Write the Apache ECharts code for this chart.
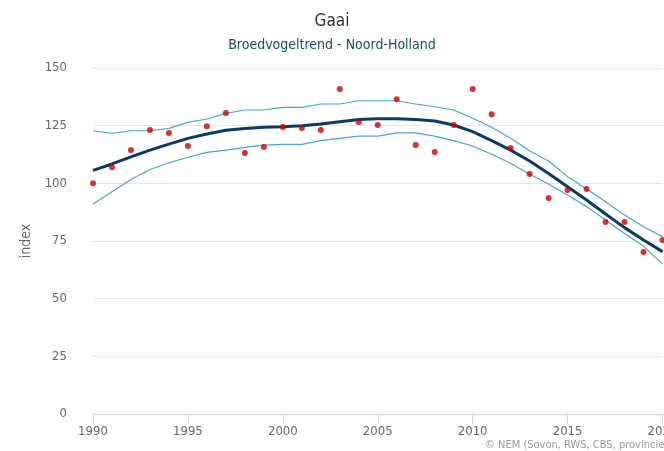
<!DOCTYPE html>
<html>
<head>
<meta charset="utf-8">
<script src="https://cdn.jsdelivr.net/npm/echarts@6/dist/echarts.min.js"></script>
<style>
  html, body { margin: 0; padding: 0; background: #fff; }
  #chart { width: 664px; height: 451px; }
</style>
</head>
<body>
<div id="chart"></div>
<script>
// jaren 1990-2020
const years = [1990, 1991, 1992, 1993, 1994, 1995, 1996, 1997, 1998, 1999,
  2000, 2001, 2002, 2003, 2004, 2005, 2006, 2007, 2008, 2009,
  2010, 2011, 2012, 2013, 2014, 2015, 2016, 2017, 2018, 2019, 2020];

// indexwaarden per jaar (punten)
const indexValues = [100, 107, 114.4, 123.1, 121.8, 116.2, 124.8, 130.5, 113.1, 115.7,
  124.4, 124, 123.1, 140.9, 126.6, 125.3, 136.5, 116.6, 113.6, 125.3,
  140.9, 130, 115.3, 104, 93.6, 97.1, 97.5, 83.2, 83.2, 70.2, 75.4];

// trendlijn
const trendValues = [105.6, 108.4, 111.5, 114.4, 117, 119.5, 121.4, 123, 123.8, 124.3,
  124.5, 125, 125.7, 126.7, 127.7, 128, 128, 127.7, 127, 125.3,
  122.4, 118.5, 114.4, 109.7, 104.3, 98.5, 92.8, 86.7, 80.8, 75.4, 70.4];

// betrouwbaarheidsinterval boven / onder
const upperValues = [122.8, 121.7, 122.8, 122.8, 123.8, 126.4, 127.9, 130.3, 131.8, 131.8,
  132.9, 132.9, 134.4, 134.4, 135.8, 135.8, 135.8, 134.4, 133.2, 131.8,
  128.2, 124.3, 119.5, 114.1, 109.7, 102.9, 97.5, 92, 86.3, 81.2, 76.9];
const lowerValues = [91, 96.4, 101.7, 106, 108.9, 111.3, 113.4, 114.4, 115.6, 116.6,
  116.9, 116.9, 118.5, 119.5, 120.5, 120.5, 121.9, 121.9, 120.5, 118.5,
  116.2, 112.6, 108.7, 103.9, 99.7, 94.9, 89.9, 84.1, 78.3, 72.8, 65];

const yTicks = [0, 25, 50, 75, 100, 125, 150];

const pair = arr => years.map((y, i) => [y, arr[i]]);
const font = '"DejaVu Sans Condensed", "DejaVu Sans", sans-serif';

const chart = echarts.init(document.getElementById('chart'));

const ciLine = (name, data) => ({
  name: name,
  type: 'line',
  data: pair(data),
  showSymbol: false,
  lineStyle: { color: '#4fa3c4', width: 1.2 },
  z: 2
});

chart.setOption({
  animation: false,
  textStyle: { fontFamily: font },
  title: {
    text: 'Gaai',
    subtext: 'Broedvogeltrend - Noord-Holland',
    left: 'center',
    top: 8,
    itemGap: 8,
    textStyle: { fontFamily: font, fontSize: 17, fontWeight: 'normal', color: '#333333' },
    subtextStyle: { fontFamily: font, fontSize: 14, color: '#1b4d5c' }
  },
  grid: { left: 93, right: 1.5, top: 68, bottom: 37, outerBoundsMode: 'none', containLabel: false },
  xAxis: {
    type: 'value',
    min: 1990,
    max: 2020,
    interval: 5,
    axisLine: { show: true, lineStyle: { color: '#ccd6eb', width: 1 } },
    axisTick: { show: true, length: 10, lineStyle: { color: '#ccd6eb' } },
    axisLabel: { color: '#666666', fontSize: 13, margin: 11, formatter: v => String(v) },
    splitLine: { show: false }
  },
  yAxis: {
    type: 'value',
    min: yTicks[0],
    max: yTicks[yTicks.length - 1],
    interval: 25,
    name: 'index',
    nameLocation: 'middle',
    nameGap: 57,
    nameTextStyle: { color: '#666666', fontSize: 14, fontFamily: font },
    axisLine: { show: false },
    axisTick: { show: false },
    axisLabel: { color: '#666666', fontSize: 13, margin: 26 },
    splitLine: { lineStyle: { color: '#e6e6e6', width: 1 } }
  },
  series: [
    ciLine('bovengrens', upperValues),
    ciLine('ondergrens', lowerValues),
    {
      name: 'trend',
      type: 'line',
      data: pair(trendValues),
      showSymbol: false,
      lineStyle: { color: '#0b3b63', width: 3 },
      z: 3
    },
    {
      name: 'index',
      type: 'scatter',
      data: pair(indexValues),
      symbolSize: 6,
      itemStyle: { color: '#cc0000' },
      z: 4
    }
  ],
  graphic: [{
    type: 'text',
    left: 485,
    top: 440,
    style: {
      text: '© NEM (Sovon, RWS, CBS, provincies)',
      fill: '#999999',
      fontSize: 11,
      fontFamily: font
    }
  }]
});
</script>
</body>
</html>
